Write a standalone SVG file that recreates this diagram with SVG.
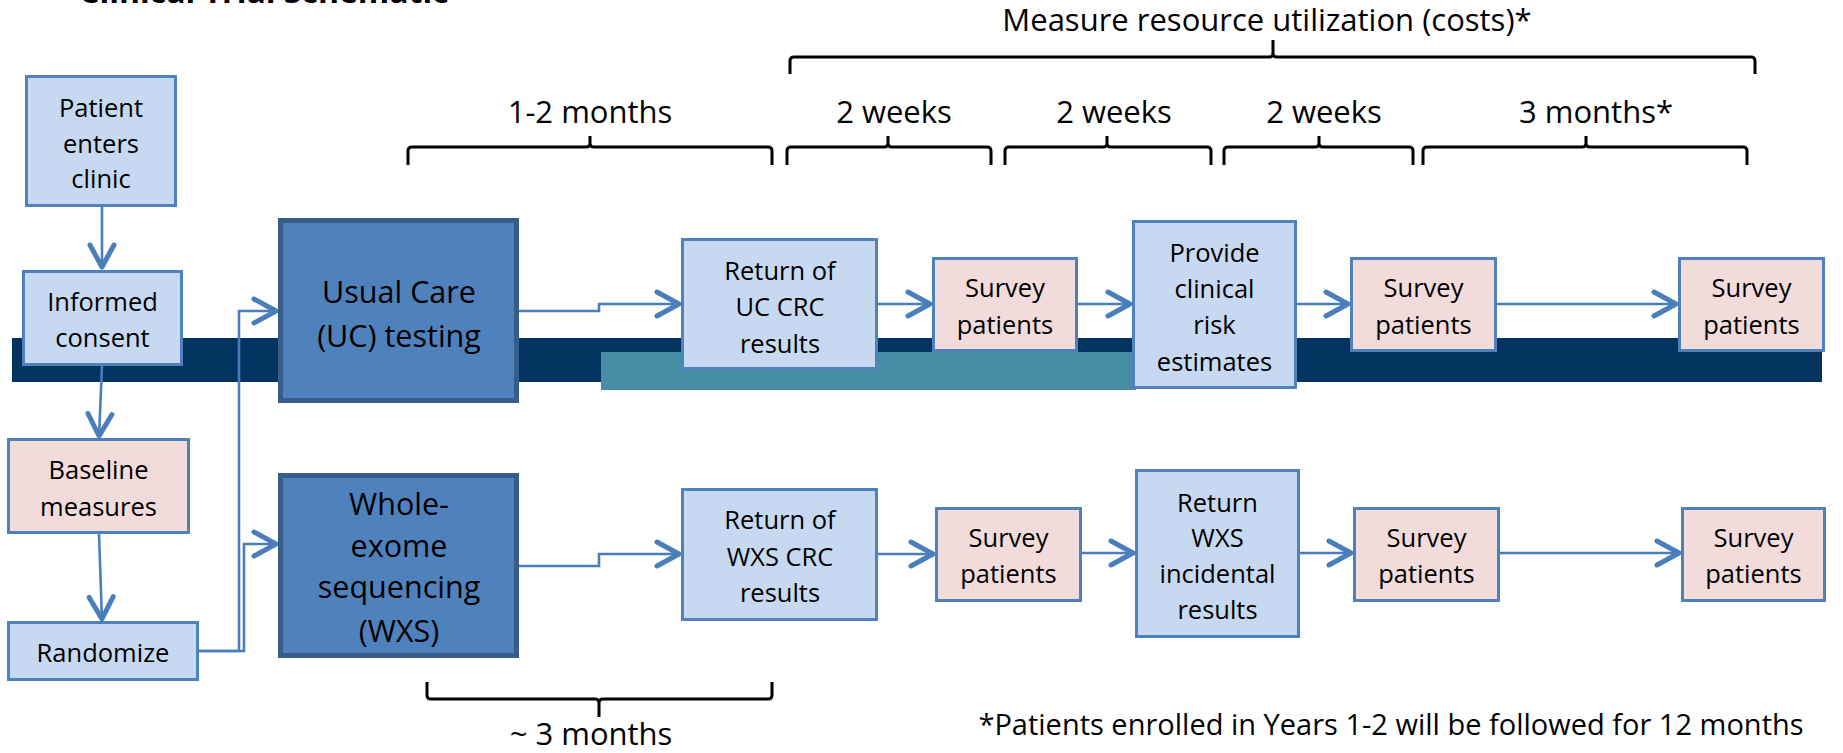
<svg xmlns="http://www.w3.org/2000/svg" width="1843" height="753" viewBox="0 0 1843 753">
<style>
.lb{fill:#C6D9F1;stroke:#4F81BD;stroke-width:3}
.pk{fill:#F2DCDB;stroke:#4F81BD;stroke-width:3}
.dk{fill:#4F81BD;stroke:#385D8A;stroke-width:5}
text{font-family:"Open Sans","Liberation Sans",sans-serif;fill:#000;text-anchor:middle}
.t{font-size:25.5px}
.tb{font-size:30.5px}
.lbl{font-size:31px}
.note{font-size:29px}
.title{font-size:32px;font-weight:bold;text-anchor:start}
.conn{fill:none;stroke:#4A7EBB;stroke-width:2.6;marker-end:url(#chev)}
.brace{fill:none;stroke:#000;stroke-width:3;stroke-linejoin:round}
</style>
<defs>
<marker id="chev" markerUnits="userSpaceOnUse" viewBox="-30 -16 32 32" refX="0" refY="0" markerWidth="32" markerHeight="32" orient="auto" overflow="visible">
<path d="M-23,-12 L-1,0 L-23,12" fill="none" stroke="#4A7EBB" stroke-width="5" stroke-linecap="round" stroke-linejoin="round"/>
</marker>
</defs>
<rect width="1843" height="753" fill="#FFFFFF"/>
<text class="title" x="79" y="3">Clinical Trial Schematic</text>

<g id="bars">
<rect x="12" y="338" width="1810" height="44" fill="#02345F"/>
<rect x="601" y="352" width="535" height="38" fill="#458EA6"/>
</g>

<g id="braces">
<path class="brace" d="M790,74 V61 Q790,57 794,57 H1269 Q1273,57 1273,53 V40 M1273,53 Q1273,57 1277,57 H1751 Q1755,57 1755,61 V74"/>
<path class="brace" d="M408,165 V151 Q408,147 412,147 H586 Q590,147 590,143 V136 M590,143 Q590,147 594,147 H768 Q772,147 772,151 V165"/>
<path class="brace" d="M787,165 V151 Q787,147 791,147 H884 Q888,147 888,143 V136 M888,143 Q888,147 892,147 H987 Q991,147 991,151 V165"/>
<path class="brace" d="M1005,165 V151 Q1005,147 1009,147 H1103 Q1107,147 1107,143 V136 M1107,143 Q1107,147 1111,147 H1207 Q1211,147 1211,151 V165"/>
<path class="brace" d="M1224,165 V151 Q1224,147 1228,147 H1315 Q1319,147 1319,143 V136 M1319,143 Q1319,147 1323,147 H1409 Q1413,147 1413,151 V165"/>
<path class="brace" d="M1423,165 V151 Q1423,147 1427,147 H1582 Q1586,147 1586,143 V136 M1586,143 Q1586,147 1590,147 H1743 Q1747,147 1747,151 V165"/>
<path class="brace" d="M427,682 V695 Q427,699 431,699 H595 Q599,699 599,703 V717 M599,703 Q599,699 603,699 H768 Q772,699 772,695 V682"/>
</g>

<g id="labels">
<text class="lbl" x="1267" y="31">Measure resource utilization (costs)*</text>
<text class="lbl" x="590" y="123">1-2 months</text>
<text class="lbl" x="894" y="123">2 weeks</text>
<text class="lbl" x="1114" y="123">2 weeks</text>
<text class="lbl" x="1324" y="123">2 weeks</text>
<text class="lbl" x="1596" y="123">3 months*</text>
<text class="lbl" x="591" y="745">~ 3 months</text>
<text class="note" x="1391" y="735">*Patients enrolled in Years 1-2 will be followed for 12 months</text>
</g>

<g id="connectors">
<path class="conn" d="M102,207 V268"/>
<path class="conn" d="M102,366 L99,437"/>
<path class="conn" d="M99,534 L102,620"/>
<path class="conn" d="M199,651 H239 V311 H277"/>
<path class="conn" d="M199,651 H244 V544 H277"/>
<path class="conn" d="M519,311 H599 V304 H680"/>
<path class="conn" d="M878,304 H931"/>
<path class="conn" d="M1078,304 H1131"/>
<path class="conn" d="M1297,304 H1349"/>
<path class="conn" d="M1497,304 H1677"/>
<path class="conn" d="M519,566 H599 V554 H680"/>
<path class="conn" d="M878,554 H934"/>
<path class="conn" d="M1082,553 H1134"/>
<path class="conn" d="M1300,553 H1352"/>
<path class="conn" d="M1500,553 H1680"/>
</g>

<g id="patient-enters">
<rect class="lb" x="26.5" y="76.5" width="149" height="129"/>
<text class="t" x="101" y="117">Patient</text>
<text class="t" x="101" y="153">enters</text>
<text class="t" x="101" y="188">clinic</text>
</g>
<g id="informed-consent">
<rect class="lb" x="23.5" y="271.5" width="158" height="93"/>
<text class="t" x="102.5" y="311">Informed</text>
<text class="t" x="102.5" y="347">consent</text>
</g>
<g id="baseline">
<rect class="pk" x="8.5" y="439.5" width="180" height="93"/>
<text class="t" x="98.5" y="479">Baseline</text>
<text class="t" x="98.5" y="516">measures</text>
</g>
<g id="randomize">
<rect class="lb" x="8.5" y="622.5" width="189" height="57"/>
<text class="t" x="103" y="662">Randomize</text>
</g>
<g id="uc-testing">
<rect class="dk" x="280.5" y="220.5" width="236" height="180"/>
<text class="tb" x="399" y="303">Usual Care</text>
<text class="tb" x="399" y="347">(UC) testing</text>
</g>
<g id="wxs">
<rect class="dk" x="280.5" y="475.5" width="236" height="180"/>
<text class="tb" x="399" y="515">Whole-</text>
<text class="tb" x="399" y="557">exome</text>
<text class="tb" x="399" y="598">sequencing</text>
<text class="tb" x="399" y="642">(WXS)</text>
</g>
<g id="return-uc">
<rect class="lb" x="682.5" y="239.5" width="194" height="129"/>
<text class="t" x="780" y="280">Return of</text>
<text class="t" x="780" y="316">UC CRC</text>
<text class="t" x="780" y="353">results</text>
</g>
<g id="survey-t1">
<rect class="pk" x="933.5" y="258.5" width="143" height="92"/>
<text class="t" x="1005" y="297">Survey</text>
<text class="t" x="1005" y="334">patients</text>
</g>
<g id="provide-risk">
<rect class="lb" x="1133.5" y="221.5" width="162" height="166"/>
<text class="t" x="1214.5" y="262">Provide</text>
<text class="t" x="1214.5" y="298">clinical</text>
<text class="t" x="1214.5" y="334">risk</text>
<text class="t" x="1214.5" y="371">estimates</text>
</g>
<g id="survey-t2">
<rect class="pk" x="1351.5" y="258.5" width="144" height="92"/>
<text class="t" x="1423.5" y="297">Survey</text>
<text class="t" x="1423.5" y="334">patients</text>
</g>
<g id="survey-t3">
<rect class="pk" x="1679.5" y="258.5" width="144" height="92"/>
<text class="t" x="1751.5" y="297">Survey</text>
<text class="t" x="1751.5" y="334">patients</text>
</g>
<g id="return-wxs">
<rect class="lb" x="682.5" y="489.5" width="194" height="130"/>
<text class="t" x="780" y="529">Return of</text>
<text class="t" x="780" y="566">WXS CRC</text>
<text class="t" x="780" y="602">results</text>
</g>
<g id="survey-b1">
<rect class="pk" x="936.5" y="508.5" width="144" height="92"/>
<text class="t" x="1008.5" y="547">Survey</text>
<text class="t" x="1008.5" y="583">patients</text>
</g>
<g id="return-incidental">
<rect class="lb" x="1136.5" y="470.5" width="162" height="166"/>
<text class="t" x="1217.5" y="512">Return</text>
<text class="t" x="1217.5" y="547">WXS</text>
<text class="t" x="1217.5" y="583">incidental</text>
<text class="t" x="1217.5" y="619">results</text>
</g>
<g id="survey-b2">
<rect class="pk" x="1354.5" y="508.5" width="144" height="92"/>
<text class="t" x="1426.5" y="547">Survey</text>
<text class="t" x="1426.5" y="583">patients</text>
</g>
<g id="survey-b3">
<rect class="pk" x="1682.5" y="508.5" width="142" height="92"/>
<text class="t" x="1753.5" y="547">Survey</text>
<text class="t" x="1753.5" y="583">patients</text>
</g>
</svg>
